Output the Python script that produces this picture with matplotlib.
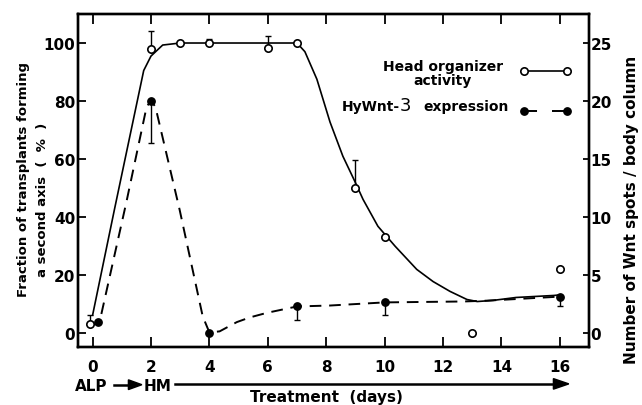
import numpy as np
import matplotlib.pyplot as plt

plt.rcParams['font.family'] = 'DejaVu Sans'
plt.rcParams['font.weight'] = 'bold'

# head organizer activity (% of transplants forming a second axis)
head_days = [-0.1, 2, 3, 4, 6, 7, 9, 10, 13, 16]
head_pct = [3, 98, 100, 100, 98.3, 100, 50, 33, 0, 22]
head_err_up = [3, 6, 0, 1.5, 4, 0, 9.5, 0, 0, 0]

# hand drawn trend line through the head organizer data
head_fit_days = [0.0, 0.75, 1.75, 2.0, 2.4, 3, 4, 6, 7, 7.27, 7.68, 8.13, 8.57, 8.98,
                 9.26, 9.77, 10.36, 11.1, 11.66, 12.24, 12.82, 13.17, 13.72, 14.5, 15.8, 16]
head_fit_pct = [6, 42.6, 90.5, 95.5, 99.3, 100, 100, 100, 100, 97, 87.5, 72.7, 60.9, 52.2,
                46, 36.7, 29.8, 21.8, 17.6, 14.2, 11.4, 10.7, 11.1, 12.1, 12.8, 13]

# HyWnt-3 expression (Wnt spots / body column)
wnt_days = [0.2, 2, 4, 7, 10, 16]
wnt_spots = [0.95, 20, 0, 2.25, 2.6, 3.1]
wnt_err_down = [0, 3.6, 0, 1.2, 1.1, 0.8]

wnt_fit_days = [0.3, 1.16, 1.85, 2.0, 2.15, 2.98, 3.77, 4.0, 4.35, 4.94, 5.38, 5.97,
                7.0, 8.13, 10, 12.7, 13.5, 16]
wnt_fit_spots = [1.6, 11.3, 19.5, 20, 19.5, 10.6, 1.4, 0, 0.1, 0.9, 1.3, 1.7,
                 2.25, 2.33, 2.6, 2.68, 2.75, 3.1]

x_ticks = [0, 2, 4, 6, 8, 10, 12, 14, 16]
left_ticks = [0, 20, 40, 60, 80, 100]
right_ticks = [0, 5, 10, 15, 20, 25]

fig = plt.figure(figsize=(6.42, 4.06), dpi=100)
ax = fig.add_axes([0.1215, 0.1429, 0.796, 0.820])
ax2 = ax.twinx()

dash = (6, 4)

# head organizer
ax.plot(head_fit_days, head_fit_pct, color='black', lw=1.2, zorder=2)
hd = np.array(head_days)
hp = np.array(head_pct)
he = np.array(head_err_up)
m = he > 0
ax.vlines(hd[m], hp[m], hp[m] + he[m], color='black', lw=1.0, zorder=3)
ax.plot(hd[m], hp[m] + he[m], '_', color='black', ms=5, mew=1.0, zorder=3)
ax.plot(hd, hp, 'o', mfc='white', mec='black', ms=5.3, mew=1.2, zorder=4)

# HyWnt-3
ax2.plot(wnt_fit_days, wnt_fit_spots, color='black', lw=1.4, dashes=dash, zorder=2)
wd = np.array(wnt_days)
ws = np.array(wnt_spots)
we = np.array(wnt_err_down)
m2 = we > 0
ax2.vlines(wd[m2], ws[m2] - we[m2], ws[m2], color='black', lw=1.0, zorder=3)
ax2.plot(wd[m2], ws[m2] - we[m2], '_', color='black', ms=5, mew=1.0, zorder=3)
ax2.plot(wd, ws, 'o', color='black', ms=5.3, zorder=4)

ax.set_xlim(-0.5, 17)
ax.set_ylim(-5, 110)
ax2.set_ylim(-1.25, 27.5)
ax.set_xticks(x_ticks)
ax.set_yticks(left_ticks)
ax2.set_yticks(right_ticks)

ax.xaxis.set_ticks_position('both')
ax.tick_params(axis='x', direction='in', length=7, width=1.3, labelsize=11, pad=9)
ax.tick_params(axis='y', direction='in', length=6, width=1.3, labelsize=11, pad=2)
ax2.tick_params(axis='y', direction='in', length=4, width=1.3, labelsize=11, pad=1)
for a in (ax, ax2):
    for s in a.spines.values():
        s.set_linewidth(1.7)

# legend drawn by hand
ax.text(0.714, 0.844, 'Head organizer', transform=ax.transAxes, ha='center', va='center',
        fontsize=10)
ax.text(0.714, 0.802, 'activity', transform=ax.transAxes, ha='center', va='center',
        fontsize=10)
ax.plot([0.873, 0.957], [0.829, 0.829], transform=ax.transAxes, color='black', lw=1.2,
        marker='o', mfc='white', mec='black', ms=5.3, mew=1.2, clip_on=False)
ax.text(0.630, 0.724, 'HyWnt-', transform=ax.transAxes, ha='right', va='center', fontsize=10)
ax.text(0.640, 0.727, '3', transform=ax.transAxes, ha='center', va='center', fontsize=13,
        fontweight='normal')
ax.text(0.675, 0.724, 'expression', transform=ax.transAxes, ha='left', va='center',
        fontsize=10)
ax.plot([0.873, 0.957], [0.709, 0.709], transform=ax.transAxes, color='black', lw=1.4,
        dashes=(6.7, 7.7), marker='o', ms=5.3, clip_on=False)

# axis labels
fig.text(0.036, 0.559, 'Fraction of transplants forming', rotation=90, ha='center',
         va='center', fontsize=9.5)
fig.text(0.066, 0.507, 'a second axis  (  %  )', rotation=90, ha='center', va='center',
         fontsize=9.5)
fig.text(0.984, 0.483, 'Number of Wnt spots / body column', rotation=90, ha='center',
         va='center', fontsize=11)

# treatment axis annotation
fig.text(0.142, 0.047, 'ALP', ha='center', va='center', fontsize=11)
fig.text(0.245, 0.047, 'HM', ha='center', va='center', fontsize=11)
fig.add_artist(plt.Line2D([0.178, 0.205], [0.050, 0.050], color='black', lw=1.8))
fig.patches.append(plt.Polygon([[0.200, 0.062], [0.221, 0.050], [0.200, 0.038]],
                               closed=True, color='black', transform=fig.transFigure,
                               figure=fig))
fig.add_artist(plt.Line2D([0.273, 0.870], [0.052, 0.052], color='black', lw=1.8))
fig.patches.append(plt.Polygon([[0.862, 0.065], [0.886, 0.052], [0.862, 0.039]],
                               closed=True, color='black', transform=fig.transFigure,
                               figure=fig))
fig.text(0.508, 0.022, 'Treatment  (days)', ha='center', va='center', fontsize=11)

fig.savefig('out.png', dpi=100)
